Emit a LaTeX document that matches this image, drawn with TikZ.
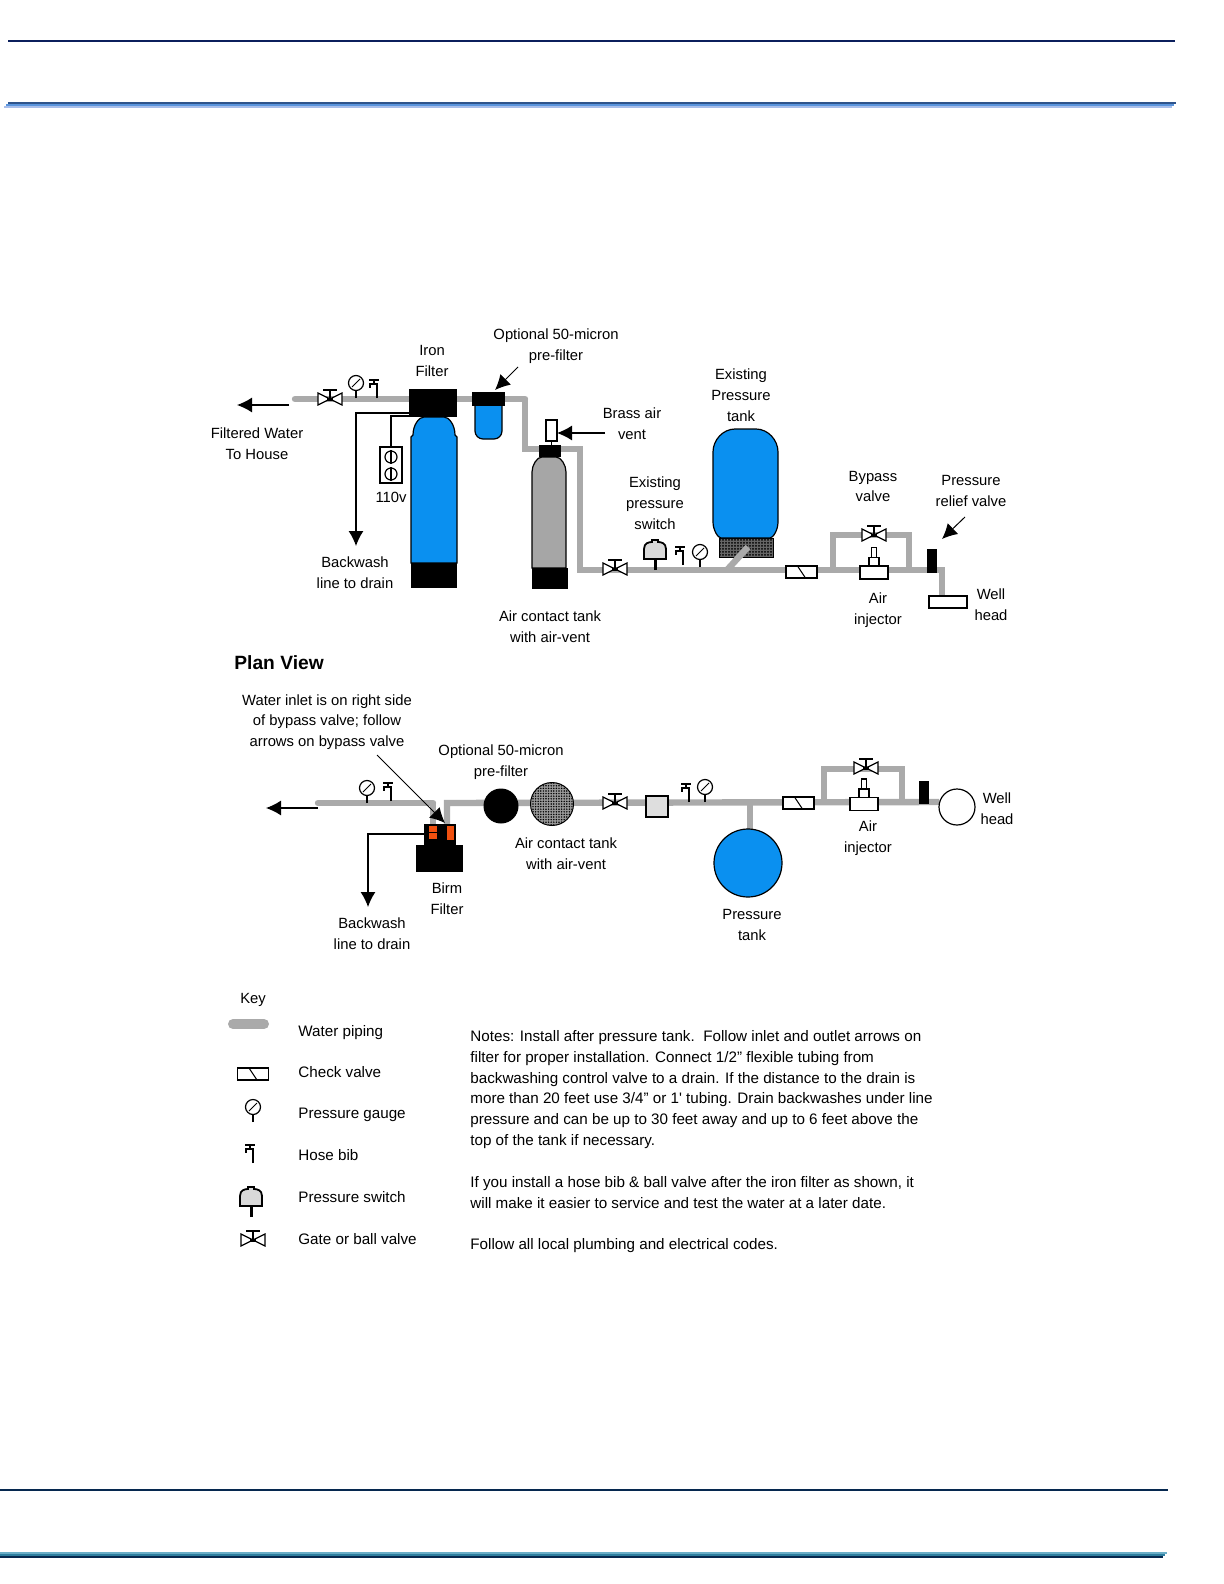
\documentclass[tikz,border=0pt]{standalone}
\usepackage{fontspec}
\usepackage{xcolor}
\setmainfont{Liberation Sans}
\usetikzlibrary{arrows.meta, positioning, patterns.meta, calc}
\definecolor{pipeGray}{HTML}{AAAAAA}
\definecolor{tankBlue}{HTML}{0A90F0}
\definecolor{tankGray}{HTML}{A6A6A6}
\definecolor{birmOrange}{HTML}{F0500F}
\definecolor{ruleNavy}{HTML}{0B1F5C}
\definecolor{ruleDeep}{HTML}{06284F}
\tikzset{
    lbl/.style={font=\fontsize{7.4}{10.4}\selectfont, align=center, inner sep=0pt},
    pipe/.style={line width=3.2pt, draw=pipeGray},
    wire/.style={->, line width=.6pt},
    blackBox/.style={rectangle, fill=black, inner sep=0pt, outer sep=0pt},
    whiteBox/.style={rectangle, draw=black, fill=white, line width=.6pt, inner sep=0pt, outer sep=0pt},
    gateValve/.pic={
        \draw[line width=.6pt, fill=white] (-12,-6)--(0,0)--(-12,6)--cycle (12,-6)--(0,0)--(12,6)--cycle;
        \draw[line width=.8pt] (0,0)--(0,-9) (-7,-9)--(7,-9);
        \fill (-3,-1.5)--(3,-1.5)--(3,1.5)--(-3,1.5)--cycle;
    },
    gaugePic/.pic={
        \draw[line width=.6pt] (0,0)--(0,-7.5);
        \draw[line width=.6pt, fill=white] (0,-15) circle (7.5);
        \draw[line width=.5pt] (-4,-11)--(4,-19);
    },
    hoseBib/.pic={
        \draw[line width=.6pt] (0,0)--(0,-14)--(-7,-14)--(-7,-10) (-8,-18)--(2,-18) (-3,-18)--(-3,-14);
    },
    checkValve/.pic={
        \draw[line width=.6pt, fill=white] (-15.5,-6) rectangle (15.5,6);
        \draw[line width=.5pt] (-4,-6)--(4,6);
    },
    airInjector/.pic={
        \draw[line width=.6pt, fill=white] (-2.5,-15) rectangle (2.5,-25) (-5,-6.5) rectangle (5,-15) (-14,-6.5) rectangle (14,6.5);
    },
    pressureSwitch/.pic={
        \draw[line width=1.5pt] (0,0)--(0,-12);
        \draw[line width=.9pt, fill=black!15] (-11,-11)--(11,-11)--(11,-21) .. controls (11,-27) and (6,-28) .. (3,-28)--(3,-30)--(-3,-30)--(-3,-28) .. controls (-6,-28) and (-11,-27) .. (-11,-21)--cycle;
    }
}
\begin{document}
\begin{tikzpicture}[x=.5pt, y=-.5pt, >={Latex[length=7.5pt, width=7.5pt]}]
    \useasboundingbox (0,0) rectangle (1224,1584);
    % page rules
    \draw[ruleNavy, line width=1pt] (8,41)--(1175,41);
    \draw[color={rgb,255:red,46;green,84;blue,140}, line width=1pt] (8,103)--(1176,103);
    \draw[color={rgb,255:red,90;green,148;blue,220}, line width=1pt] (6,105)--(1174,105);
    \draw[color={rgb,255:red,168;green,190;blue,234}, line width=1pt] (4,107)--(1172,107);
    \draw[ruleDeep, line width=1pt] (0,1490)--(1168,1490);
    \draw[color={rgb,255:red,106;green,174;blue,200}, line width=.6pt] (0,1553)--(1167,1553);
    \draw[color={rgb,255:red,46;green,127;blue,160}, line width=.6pt] (0,1555)--(1165,1555);
    \draw[ruleDeep, line width=.6pt] (0,1557)--(1163,1557);

    % elevation pipes
    \coordinate (elevStart) at (295,399);  \coordinate (elevA) at (525,399);
    \coordinate (elevB) at (525,449);      \coordinate (elevC) at (580,449);
    \coordinate (elevD) at (580,570);      \coordinate (elevE) at (942,570);
    \coordinate (elevF) at (942,596);      \coordinate (tankTee) at (727,570);
    \coordinate (tankStub) at (748,547);   \coordinate (bypassA) at (833,570);
    \coordinate (bypassB) at (833,535);    \coordinate (bypassC) at (909,535);
    \coordinate (bypassD) at (909,570);
    \draw[pipe, line cap=round] (elevStart)--(elevA);
    \draw[pipe] (elevA)--(elevB)--(elevC)--(elevD)--(elevE)--(elevF);
    \draw[pipe] (bypassA)--(bypassB)--(bypassC)--(bypassD);

    % iron filter
    \draw[fill=tankBlue, line width=.6pt] (411,563)--(411,437)--(413,435) .. controls (413,425) and (419,417) .. (424,417)--(444,417) .. controls (449,417) and (455,425) .. (455,435)--(457,437)--(457,563)--cycle;
    \node[blackBox, minimum width=24pt, minimum height=14pt] (ironHead) at (433,403) {};
    \node[blackBox, minimum width=23pt, minimum height=12.5pt] (ironBase) at (434,575.5) {};
    \node[lbl] (ironLabel) at (432,361) {Iron\\Filter};
    \pic at (330,399) {gateValve};
    \pic at (356,398) {gaugePic};
    \pic at (377,398) {hoseBib};
    \coordinate (filteredTail) at (289,405);  \coordinate (filteredTip) at (237,405);
    \draw[wire] (filteredTail)--(filteredTip);
    \node[lbl] (filteredLabel) at (257,443.5) {Filtered Water\\To House};
    \coordinate (ironDrain) at (409,413);  \coordinate (ironDrainTip) at (356,546);
    \draw[wire] (ironDrain)-|(ironDrainTip);
    \node[lbl] (ironDrainLabel) at (355,572.5) {Backwash\\line to drain};

    % outlet
    \node[whiteBox, minimum width=11pt, minimum height=18pt] (outletBox) at (391,465) {};
    \coordinate (outletWire) at (409,416);
    \draw[line width=.6pt] (outletWire)-|(outletBox.north);
    \foreach \sy/\nm in {457/One,474/Two}{
        \node[circle, draw=black, line width=.6pt, inner sep=0pt, minimum size=6pt, fill=white] (socket\nm) at (391,\sy) {};
        \draw[line width=.8pt] (socket\nm.north)--(socket\nm.south);
    }
    \node[lbl] (outletLabel) at (391,497) {110v};

    % pre-filter
    \draw[fill=tankBlue, line width=.6pt, rounded corners=4pt] (475,403)--(475,439)--(502,439)--(502,403);
    \node[blackBox, minimum width=16.5pt, minimum height=7pt] (preHead) at (488.5,399) {};
    \node[lbl] (preLabel) at (556,346) {Optional 50-micron\\pre-filter};
    \coordinate (preTail) at (518,367);  \coordinate (preTip) at (495,390);
    \draw[wire, line width=.5pt] (preTail)--(preTip);

    % air contact tank
    \draw[fill=tankGray, line width=.6pt] (532,568)--(532,472) .. controls (532,465) and (537,457) .. (542,457)--(556,457) .. controls (561,457) and (566,465) .. (566,472)--(566,568)--cycle;
    \node[blackBox, minimum width=11pt, minimum height=6pt] (airHead) at (550,451) {};
    \node[blackBox, minimum width=18pt, minimum height=10.5pt] (airBase) at (550,578.5) {};
    \node[whiteBox, minimum width=5.5pt, minimum height=10.5pt] (ventBox) at (551.5,430.5) {};
    \draw[line width=.8pt] (ventBox.south)--(airHead.north-|ventBox.south);
    \coordinate (brassTail) at (605,433);
    \draw[wire] (brassTail)--(brassTail-|ventBox.east);
    \node[lbl] (brassLabel) at (632,423.5) {Brass air\\vent};
    \node[lbl] (airLabel) at (550,626.5) {Air contact tank\\with air-vent};

    % pressure tank and fittings
    \node[rectangle, fill=black!60, inner sep=0pt, minimum width=27pt, minimum height=9.5pt] (tankBaseBack) at (746,547.5) {};
    \node[rectangle, draw=black, line width=.4pt, inner sep=0pt, minimum width=27pt, minimum height=9.5pt, pattern={Dots[distance=1.5pt, radius=.5pt]}] (tankBase) at (746,547.5) {};
    \draw[pipe] (tankTee)--(tankStub);
    \draw[fill=tankBlue, line width=.6pt] (713,522)--(713,452) .. controls (713,440) and (723,429) .. (735,429)--(756,429) .. controls (768,429) and (778,440) .. (778,452)--(778,522) .. controls (778,530) and (773,538) .. (770,538)--(721,538) .. controls (718,538) and (713,530) .. (713,522)--cycle;
    \node[lbl] (tankLabel) at (741,395) {Existing\\Pressure\\tank};
    \pic at (615,569) {gateValve};
    \pic at (655,570) {pressureSwitch};
    \pic at (683,565) {hoseBib};
    \pic at (700,567) {gaugePic};
    \node[lbl] (switchLabel) at (655,503) {Existing\\pressure\\switch};
    \pic at (801.5,572) {checkValve};
    \pic at (874,535) {gateValve};
    \pic at (874,572.5) {airInjector};
    \node[lbl] (bypassLabel) at (873,486.5) {Bypass\\valve};
    \node[lbl] (injectorLabel) at (878,610.5) {Air\\injector};
    \node[blackBox, minimum width=5pt, minimum height=12pt] (reliefValve) at (932,561) {};
    \node[lbl] (reliefLabel) at (971,491) {Pressure\\relief valve};
    \coordinate (reliefTail) at (965,517);  \coordinate (reliefTip) at (942,539);
    \draw[wire, line width=.5pt] (reliefTail)--(reliefTip);
    \node[whiteBox, minimum width=19pt, minimum height=6pt] (wellHead) at (948,602) {};
    \node[lbl] (wellLabel) at (991,604.5) {Well\\head};

    % plan view
    \node[lbl, font=\fontsize{9.6}{12}\selectfont\bfseries, anchor=west] (planTitle) at (234,663) {Plan View};
    \node[lbl] (inletLabel) at (327,722) {Water inlet is on right side\\of bypass valve; follow\\arrows on bypass valve};
    \coordinate (planStart) at (318,803);  \coordinate (planA) at (433,803);
    \coordinate (planB) at (433,825);      \coordinate (planC) at (447,825);
    \coordinate (planD) at (447,803);      \coordinate (planE) at (939,802);
    \coordinate (planTee) at (750,802);    \coordinate (planStub) at (750,832);
    \coordinate (planBypassA) at (824,802);  \coordinate (planBypassB) at (824,769);
    \coordinate (planBypassC) at (902,769);  \coordinate (planBypassD) at (902,802);
    \draw[pipe, line cap=round] (planStart)--(planA);
    \draw[pipe] (planA)--(planB);
    \draw[pipe] (planC)--(planD)--(planE);
    \draw[pipe] (planTee)--(planStub);
    \draw[pipe] (planBypassA)--(planBypassB)--(planBypassC)--(planBypassD);
    \pic at (367,803) {gaugePic};
    \pic at (391,801) {hoseBib};
    \coordinate (planOutTail) at (318,808);  \coordinate (planOutTip) at (266,808);
    \draw[wire] (planOutTail)--(planOutTip);

    % birm filter
    \node[blackBox, minimum width=23.5pt, minimum height=13.5pt] (birmBase) at (439.5,858.5) {};
    \node[blackBox, minimum width=16pt, minimum height=10.5pt] (birmTop) at (440,834.5) {};
    \node[blackBox, fill=birmOrange, minimum width=4pt, minimum height=6.5pt] (birmPortA) at (433,832.5) {};
    \draw[black, line width=.5pt] (birmPortA.west)--(birmPortA.east);
    \node[blackBox, fill=birmOrange, minimum width=3.5pt, minimum height=7pt] (birmPortB) at (450.5,833) {};
    \node[lbl] (birmLabel) at (447,898.5) {Birm\\Filter};
    \coordinate (inletTail) at (377,755);  \coordinate (inletTip) at (445,823);
    \draw[wire, line width=.5pt] (inletTail)--(inletTip);
    \coordinate (birmDrain) at (424,834);  \coordinate (birmDrainTip) at (368,907);
    \draw[wire] (birmDrain)-|(birmDrainTip);
    \node[lbl] (birmDrainLabel) at (372,933.5) {Backwash\\line to drain};

    % plan view parts along the line
    \node[circle, fill=black, inner sep=0pt, minimum size=17.5pt] (planPre) at (501,806) {};
    \node[lbl] (planPreLabel) at (501,762) {Optional 50-micron\\pre-filter};
    \node[circle, draw=black, line width=.5pt, fill=black!40, inner sep=0pt, minimum size=21.5pt] (planAirBack) at (552,804) {};
    \node[circle, inner sep=0pt, minimum size=21pt, pattern={Dots[distance=1.3pt, radius=.42pt]}] (planAir) at (552,804) {};
    \node[lbl] (planAirLabel) at (566,853.5) {Air contact tank\\with air-vent};
    \pic at (615,803) {gateValve};
    \node[whiteBox, fill=black!13, minimum width=11pt, minimum height=10.5pt] (planSwitch) at (657,806.5) {};
    \pic at (689,802) {hoseBib};
    \pic at (705,802) {gaugePic};
    \node[circle, draw=black, fill=tankBlue, line width=.6pt, inner sep=0pt, minimum size=34pt] (planTank) at (748,863) {};
    \node[lbl] (planTankLabel) at (752,925) {Pressure\\tank};
    \pic at (798.5,803) {checkValve};
    \pic at (866,768) {gateValve};
    \pic at (864,804) {airInjector};
    \node[lbl] (planInjectorLabel) at (868,838.5) {Air\\injector};
    \node[blackBox, minimum width=5pt, minimum height=11.5pt] (planRelief) at (924,792.5) {};
    \node[circle, draw=black, fill=white, line width=.6pt, inner sep=0pt, minimum size=18pt] (planWell) at (957,807) {};
    \node[lbl] (planWellLabel) at (997,808.5) {Well\\head};

    % key
    \node[lbl] (keyTitle) at (253,1000) {Key};
    \coordinate (keyPipeA) at (233,1024);  \coordinate (keyPipeB) at (264,1024);
    \draw[pipeGray, line width=5pt, line cap=round] (keyPipeA)--(keyPipeB);
    \pic at (253,1074) {checkValve};
    \pic at (253,1122) {gaugePic};
    \pic at (253,1163) {hoseBib};
    \pic at (251,1217) {pressureSwitch};
    \pic at (253,1240) {gateValve};
    \foreach \ky/\kname/\ktxt in {1033/Piping/Water piping, 1072/Check/Check valve, 1115/Gauge/Pressure gauge, 1155/Bib/Hose bib, 1197/Switch/Pressure switch, 1239/Valve/Gate or ball valve}{
        \node[lbl, anchor=west, font=\fontsize{7.6}{10.4}\selectfont] (key\kname) at (298,\ky) {\ktxt};
    }

    % notes
    \node[lbl, font=\fontsize{7.6}{10.42}\selectfont, align=left, anchor=north west] (notes) at (470,1030) {Notes: Install after pressure tank.\ \ Follow inlet and outlet arrows on\\
    filter for proper installation. Connect 1/2" flexible tubing from\\
    backwashing control valve to a drain. If the distance to the drain is\\
    more than 20 feet use 3/4" or 1\textquotesingle{} tubing. Drain backwashes under line\\
    pressure and can be up to 30 feet away and up to 6 feet above the\\
    top of the tank if necessary.\\[10.42pt]
    If you install a hose bib \& ball valve after the iron filter as shown, it\\
    will make it easier to service and test the water at a later date.\\[10.42pt]
    Follow all local plumbing and electrical codes.};
\end{tikzpicture}
\end{document}
